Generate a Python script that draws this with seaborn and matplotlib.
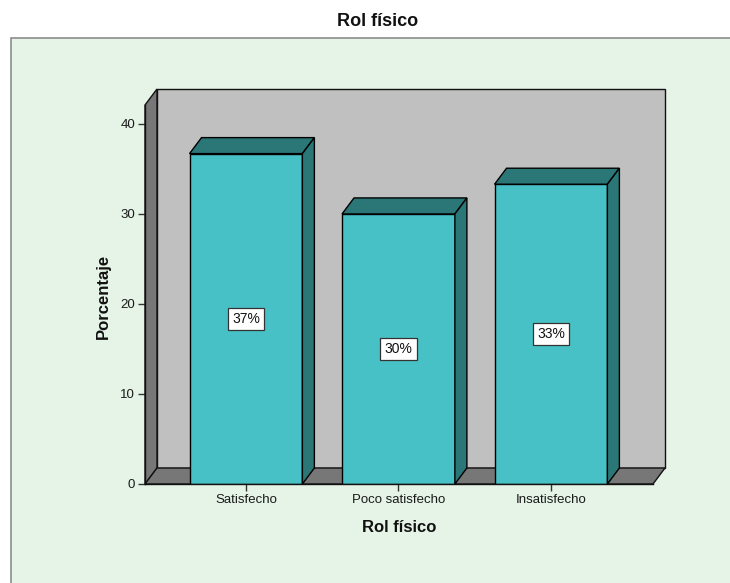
import matplotlib
matplotlib.use("Agg")
import matplotlib.pyplot as plt
import seaborn as sns
import pandas as pd
from matplotlib.patches import Polygon, Rectangle

# Datos: distribución porcentual del rol físico
categorias = ["Satisfecho", "Poco satisfecho", "Insatisfecho"]
porcentajes = [36.7, 30.0, 33.3]
ticks_y = [0, 10, 20, 30, 40]

CARA = "#48C1C6"
SOMBRA = "#2B7677"
PARED = "#C0C0C0"
SUELO = "#777777"
FONDO = "#E5F4E7"

sns.set_theme(style="white")
plt.rcParams["font.family"] = ["Liberation Sans", "DejaVu Sans"]

W, H = 730, 583
fig = plt.figure(figsize=(W / 100, H / 100), dpi=100)
fig.patch.set_facecolor("white")

# Panel de fondo verde
fig.add_artist(Rectangle((11 / W, -0.05), 1.0, (H - 38) / H + 0.05,
                         transform=fig.transFigure, facecolor=FONDO,
                         edgecolor="#8C8C8C", lw=1.2, zorder=0))

ax = fig.add_axes([145 / W, 1 - 484 / H, 508 / W, 379 / H])
ax.patch.set_visible(False)

df = pd.DataFrame({"rol": categorias, "pct": porcentajes})
sns.barplot(data=df, x="rol", y="pct", hue="rol", palette=[CARA] * len(categorias),
            legend=False, width=0.74, edgecolor="black", linewidth=1,
            saturation=1, ax=ax, zorder=3)
barras = list(ax.patches)

xlim = (-0.662, 2.669)
ylim = (0, 42.1)
ax.set_xlim(*xlim)
ax.set_ylim(*ylim)

# Profundidad de la perspectiva (fracción de ejes y unidades de datos)
DX, DY = 12 / 508, 16 / 379
dxd = DX * (xlim[1] - xlim[0])
dyd = DY * (ylim[1] - ylim[0])

estilo = dict(transform=ax.transAxes, clip_on=False, edgecolor="#111111", lw=1)
ax.add_patch(Rectangle((DX, DY), 1, 1, facecolor=PARED, zorder=1, **estilo))
ax.add_patch(Polygon([(0, 0), (0, 1), (DX, 1 + DY), (DX, DY)],
                     facecolor=SUELO, zorder=1.2, **estilo))
ax.add_patch(Polygon([(0, 0), (1, 0), (1 + DX, DY), (DX, DY)],
                     facecolor=SUELO, zorder=1.2, **estilo))

# Caras superior y lateral de cada barra, y etiqueta con el porcentaje
for p, v in zip(barras, porcentajes):
    x0 = p.get_x()
    x1 = x0 + p.get_width()
    h = p.get_height()
    ax.add_patch(Polygon([(x0, h), (x1, h), (x1 + dxd, h + dyd), (x0 + dxd, h + dyd)],
                         facecolor=SOMBRA, edgecolor="black", lw=1, zorder=3,
                         clip_on=False))
    ax.add_patch(Polygon([(x1, 0), (x1, h), (x1 + dxd, h + dyd), (x1 + dxd, dyd)],
                         facecolor=SOMBRA, edgecolor="black", lw=1, zorder=3,
                         clip_on=False))
    ax.text((x0 + x1) / 2, h / 2, f"{round(v)}%", ha="center", va="center",
            fontsize=10, color="#111111", zorder=6,
            bbox=dict(boxstyle="square,pad=0.3", fc="white", ec="#333333", lw=0.9))

for s in ["top", "right"]:
    ax.spines[s].set_visible(False)
for s in ["left", "bottom"]:
    ax.spines[s].set_color("#111111")
    ax.spines[s].set_linewidth(1)
    ax.spines[s].set_zorder(4)

ax.set_yticks(ticks_y)
ax.tick_params(axis="both", left=True, bottom=True, direction="out", length=5,
               width=1, color="#333333", labelsize=9.5, labelcolor="#1a1a1a", pad=2)

xl = ax.set_xlabel("Rol físico", fontsize=12, fontweight="bold", color="#111111")
ax.xaxis.set_label_coords(0.5, -(528 - 484) / 379)
xl.set_va("center")
yl = ax.set_ylabel("Porcentaje", fontsize=12, fontweight="bold", color="#111111")
ax.yaxis.set_label_coords(-(145 - 103) / 508, (484 - 296.5) / 379)
yl.set_va("center")

fig.text(378 / W, 1 - 22 / H, "Rol físico", fontsize=13, fontweight="bold",
         ha="center", va="center", color="#111111")

fig.savefig("out.png", dpi=100)
